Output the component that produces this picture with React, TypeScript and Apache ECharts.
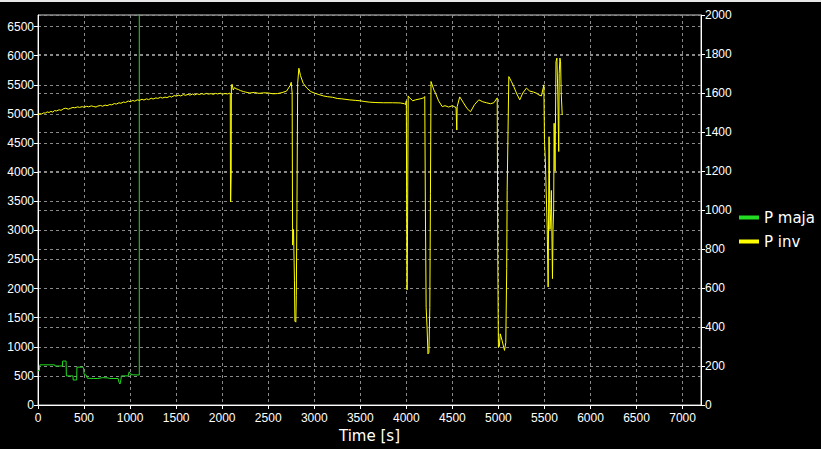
import React, { useEffect, useRef } from "react";
import * as echarts from "echarts";

const xTicks = { min: 0, max: 7200, interval: 500 };
const leftTicks = { min: 0, max: 6700, interval: 500 };
const rightTicks = { min: 0, max: 2000, interval: 200 };

const seriesNames = ["P maja", "P inv"];

// P maja (left axis) [time s, value]
const pMaja: [number, number][] = [
  [0, 590], [15, 590], [20, 690], [180, 690], [185, 670], [265, 670], [268, 755], [305, 755],
  [308, 500], [380, 500], [382, 430], [420, 430], [423, 650], [480, 650], [495, 640], [500, 530],
  [525, 510], [535, 460], [600, 455], [650, 455], [700, 470], [760, 465], [780, 455], [870, 455],
  [880, 390], [890, 360], [900, 430], [905, 500], [980, 500], [990, 570], [1010, 520], [1100, 515],
  [1100, 9000],
];

// P inv (right axis) [time s, value]
const pInv: [number, number][] = [
  [0, 1490], [20, 1494], [40, 1492], [60, 1498], [80, 1497], [100, 1503], [120, 1500], [140, 1506],
  [160, 1502], [180, 1510], [200, 1508], [230, 1514], [250, 1511], [280, 1520], [300, 1522], [330, 1517],
  [350, 1521], [380, 1526], [400, 1524], [430, 1529], [450, 1526], [480, 1530], [500, 1527], [530, 1532],
  [550, 1529], [580, 1534], [600, 1531], [630, 1528], [650, 1533], [680, 1536], [700, 1532], [730, 1538],
  [750, 1535], [780, 1541], [800, 1539], [830, 1546], [850, 1543], [880, 1550], [900, 1547], [930, 1554],
  [950, 1551], [980, 1559], [1000, 1555], [1030, 1562], [1050, 1558], [1080, 1565], [1100, 1562],
  [1130, 1568], [1150, 1564], [1180, 1570], [1200, 1566], [1230, 1573], [1250, 1569], [1280, 1575],
  [1300, 1572], [1330, 1578], [1350, 1574], [1380, 1579], [1400, 1576], [1430, 1583], [1450, 1579],
  [1480, 1587], [1500, 1584], [1530, 1589], [1550, 1585], [1580, 1592], [1600, 1588], [1630, 1593],
  [1650, 1589], [1680, 1595], [1700, 1590], [1730, 1596], [1750, 1592], [1780, 1597], [1800, 1593],
  [1830, 1598], [1850, 1594], [1880, 1597], [1900, 1593], [1930, 1598], [1950, 1595], [1980, 1599],
  [2000, 1594], [2030, 1597], [2060, 1595], [2085, 1600],
  [2088, 1596], [2090, 1180], [2092, 1042], [2095, 1042], [2098, 1190], [2100, 1640], [2108, 1645],
  [2120, 1615], [2135, 1628], [2150, 1622], [2175, 1618], [2200, 1612], [2230, 1608], [2250, 1605],
  [2280, 1602], [2300, 1600], [2350, 1603], [2400, 1598], [2450, 1601], [2500, 1600], [2550, 1596],
  [2600, 1597], [2650, 1602], [2700, 1610], [2740, 1640], [2750, 1655], [2760, 1600], [2765, 820],
  [2775, 900], [2785, 640], [2790, 430], [2800, 425], [2805, 560], [2812, 1000], [2820, 1650],
  [2833, 1727], [2850, 1690], [2880, 1650], [2920, 1625], [2964, 1607], [3000, 1600], [3050, 1592],
  [3100, 1585], [3145, 1581], [3200, 1578], [3250, 1572], [3300, 1570], [3380, 1565], [3450, 1562],
  [3500, 1560], [3550, 1556], [3600, 1553], [3670, 1551], [3750, 1550], [3850, 1550], [3934, 1549],
  [3980, 1545], [3990, 1540], [4000, 1560], [4005, 800], [4008, 590], [4012, 800], [4020, 1585],
  [4030, 1578], [4070, 1560], [4100, 1565], [4150, 1570], [4188, 1575], [4200, 1582], [4207, 1000],
  [4215, 502], [4225, 400], [4235, 262], [4245, 270], [4255, 500], [4262, 1086], [4268, 1659],
  [4300, 1615], [4317, 1599], [4350, 1560], [4390, 1530], [4420, 1535], [4459, 1528], [4500, 1535],
  [4540, 1525], [4548, 1410], [4552, 1530], [4580, 1580], [4620, 1550], [4660, 1520], [4697, 1504],
  [4740, 1540], [4787, 1565], [4830, 1555], [4870, 1550], [4914, 1545], [4950, 1550], [4987, 1575],
  [4993, 760], [5000, 296], [5010, 300], [5020, 365], [5040, 330], [5066, 280], [5080, 320],
  [5090, 700], [5095, 1100], [5113, 1684], [5140, 1660], [5167, 1633], [5200, 1595], [5232, 1565],
  [5265, 1600], [5304, 1625], [5340, 1610], [5380, 1605], [5413, 1599], [5440, 1590], [5467, 1585],
  [5494, 1642], [5500, 1360], [5510, 1250], [5530, 900], [5540, 605], [5550, 1376], [5560, 900],
  [5570, 1000], [5575, 1100], [5587, 648], [5593, 900], [5600, 1000], [5605, 1445], [5615, 1200],
  [5625, 1760], [5635, 1779], [5645, 1600], [5655, 1300], [5660, 1700], [5668, 1779], [5675, 1760],
  [5682, 1600], [5693, 1487],
];

const FONT_NUM = "Liberation Sans";
const FONT_TXT = "DejaVu Sans";
const GRID_COLOR = "#8a8a8a";

export default function App() {
  const ref = useRef<HTMLDivElement>(null);
  useEffect(() => {
    document.body.style.margin = "0";
    document.body.style.background = "#000";
    const chart = echarts.init(ref.current!, null, { renderer: "svg" });
    const splitLine = { show: true, lineStyle: { color: GRID_COLOR, type: [3, 3] as any, width: 1 } };
    const label = {
      color: "#ffffff",
      fontSize: 12,
      fontFamily: FONT_NUM,
      margin: 4,
      showMaxLabel: false,
      formatter: (v: number) => String(v),
    };
    const axisCommon = {
      axisLine: { show: true, lineStyle: { color: "#ffffff", width: 1 } },
      axisTick: { show: true, length: 4, lineStyle: { color: "#ffffff" } },
      splitLine,
    };
    chart.setOption({
      animation: false,
      backgroundColor: "#000000",
      graphic: [
        { type: "rect", shape: { x: 0, y: 0, width: 821, height: 2 }, style: { fill: "#e6e6e6" }, silent: true },
      ],
      grid: {
        left: 38,
        right: 120,
        top: 15,
        bottom: 44,
        show: true,
        borderColor: "#d0d0d0",
        borderWidth: 1,
        backgroundColor: "transparent",
      },
      legend: {
        orient: "vertical",
        left: 734,
        top: 205,
        itemWidth: 20,
        itemHeight: 4,
        itemGap: 9,
        icon: "rect",
        data: seriesNames,
        textStyle: { color: "#ffffff", fontSize: 15, fontFamily: FONT_TXT },
      },
      xAxis: {
        type: "value",
        ...xTicks,
        ...axisCommon,
        axisLabel: { ...label, margin: 7 },
        name: "Time [s]",
        nameLocation: "middle",
        nameGap: 23,
        nameTextStyle: { color: "#ffffff", fontSize: 15, fontFamily: FONT_TXT },
      },
      yAxis: [
        { type: "value", position: "left", ...leftTicks, ...axisCommon, axisLabel: label },
        { type: "value", position: "right", ...rightTicks, ...axisCommon, axisLabel: { ...label, showMaxLabel: true } },
      ],
      series: [
        {
          name: seriesNames[0],
          type: "line",
          yAxisIndex: 0,
          data: pMaja,
          showSymbol: false,
          symbol: "none",
          clip: true,
          lineStyle: { color: "#22dd22", width: 1 },
          itemStyle: { color: "#22dd22" },
        },
        {
          name: seriesNames[1],
          type: "line",
          yAxisIndex: 1,
          data: pInv,
          showSymbol: false,
          symbol: "none",
          clip: true,
          lineStyle: { color: "#ffff00", width: 1 },
          itemStyle: { color: "#ffff00" },
        },
      ],
    });
    return () => chart.dispose();
  }, []);
  return <div ref={ref} style={{ width: 821, height: 449 }} />;
}
